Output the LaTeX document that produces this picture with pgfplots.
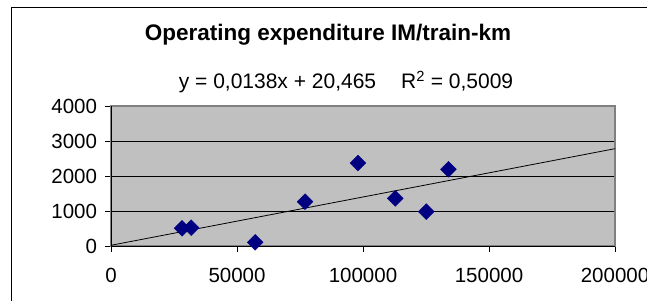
\documentclass[border=0pt]{standalone}
\usepackage{pgfplots}
\pgfplotsset{compat=1.18}
\usepackage{fontspec}
\setmainfont{Liberation Sans}
\definecolor{plotgray}{HTML}{C0C0C0}
\definecolor{framegray}{HTML}{808080}
\definecolor{navy}{HTML}{000080}
\begin{document}
\begin{tikzpicture}[x=1bp,y=1bp]
\fontsize{20.5bp}{24bp}\selectfont
\path[use as bounding box] (0,0) rectangle (647,300);
\begin{scope}
\clip (0,0) rectangle (647,300);
\draw[black,line width=1bp] (11,-20) rectangle (680,292);
\begin{axis}[
  at={(111bp,54bp)}, anchor=origin,
  scale only axis, width=504bp, height=140bp,
  xmin=0, xmax=200000, ymin=0, ymax=4000,
  xtick={0,50000,100000,150000,200000},
  xticklabels={0,50000,100000,150000,200000},
  ytick={0,1000,2000,3000,4000},
  yticklabels={0,1000,2000,3000,4000},
  scaled x ticks=false, scaled y ticks=false,
  tick label style={font=\fontsize{20.5bp}{24bp}\selectfont},
  tick align=outside, major tick length=6bp,
  tick style={black, line width=0.8bp},
  xtick pos=bottom, ytick pos=left,
  axis background/.style={fill=plotgray},
  ymajorgrids, grid style={black, line width=0.8bp},
  axis line style={framegray, line width=1.2bp},
  xticklabel style={yshift=-9bp},
  yticklabel style={xshift=-1bp},
  clip=false,
]
\addplot[black, line width=0.8bp, no marks] coordinates {(0,20.465) (200000,2780.465)};
\addplot[only marks, mark=square*, mark size=5.6bp, mark options={fill=navy, draw=navy, rotate=45}] coordinates {
(28200,505) (31800,524) (57200,105) (77000,1267) (98000,2371) (112800,1362) (125100,981) (133900,2190)
};
\draw[black, line width=1bp] (rel axis cs:0,1) -- (rel axis cs:0,0) -- (rel axis cs:1,0);
\end{axis}
\node[font=\bfseries\fontsize{22.5bp}{26bp}\selectfont] at (328,265) {Operating expenditure IM/train-km};
\node[font=\fontsize{21bp}{25bp}\selectfont] at (346,218) {y = 0,0138x + 20,465\hspace{25bp}R\textsuperscript{2} = 0,5009};
\end{scope}
\end{tikzpicture}
\end{document}
